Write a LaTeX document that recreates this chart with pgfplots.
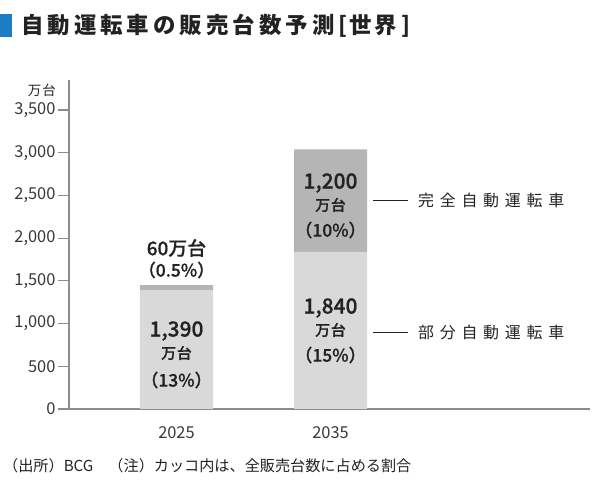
\documentclass[border=0pt]{standalone}
\usepackage{pgfplots}
\pgfplotsset{compat=1.18}
\usepackage{fontspec}
\setmainfont{Noto Sans CJK JP}
\newfontfamily\med{Noto Sans CJK JP Medium}[FakeBold=0.7]
\definecolor{titleblue}{HTML}{1B7DC6}
\definecolor{lightbar}{HTML}{D9D9D9}
\definecolor{darkbar}{HTML}{B5B5B5}
\definecolor{axisgray}{HTML}{8C8C8C}
\definecolor{txt}{HTML}{222222}
\begin{document}
\begin{tikzpicture}
\begin{scope}[x=1bp,y=1bp,shift={(-69bp,-73bp)}]
\path[use as bounding box] (0,0) rectangle (600,482);
\end{scope}
\begin{axis}[
  at={(0pt,0pt)}, anchor=south west,
  scale only axis, width=521bp, height=329bp,
  xmin=-0.698, xmax=2.685, ymin=0, ymax=3851,
  axis x line=bottom, axis y line=left,
  axis line style={draw=axisgray, line width=1.6bp, -},
  ytick={0,500,...,3500},
  xtick={0,1}, xticklabels={2025,2035},
  scaled y ticks=false,
  /pgf/number format/.cd, 1000 sep={,}, assume math mode=true, /pgfplots/.cd,
  tick align=outside,
  major tick length=11bp,
  ytick style={draw=axisgray, line width=1.2bp},
  xtick style={draw=none},
  yticklabel style={font=\fontsize{16.5}{19}\selectfont, text=txt!90, xshift=1bp},
  xticklabel style={font=\fontsize{16.5}{19}\selectfont, text=txt!90, yshift=-3bp},
  ybar stacked, bar width=73bp,
  clip=false,
]
\addplot[fill=lightbar, draw=none] coordinates {(0,1390) (1,1840)};
\addplot[fill=darkbar, draw=none] coordinates {(0,60) (1,1200)};
\end{axis}
\begin{scope}[x=1bp,y=1bp,shift={(-69bp,-73bp)}, every node/.style={inner sep=0, text=txt}]
% title
\fill[titleblue] (0,445) rectangle (12,468);
\begin{scope}[every node/.append style={anchor=base west, font=\fontsize{22.5}{26}\selectfont\bfseries}]
\node[font=\fontsize{22.5}{26}\selectfont\bfseries\addfontfeatures{LetterSpace=18}] at (21,448) {自動運転車の販売台数予測};
\node at (338,448) {[};
\node at (349,448) {世};
\node at (374,448) {界};
\node at (401,448) {]};
\end{scope}
% y unit
\node[anchor=east, font=\fontsize{13.5}{15}\selectfont\addfontfeatures{LetterSpace=8}] at (56,392) {万台};
% 2025 labels
\node[font=\fontsize{19}{22}\selectfont\med] at (176.5,234) {60万台};
\node[font=\fontsize{17.5}{20}\selectfont\med] at (176.5,212) {（0.5\%）};
\node[font=\fontsize{21}{24}\selectfont\med] at (176.5,151) {1,390};
\node[font=\fontsize{15}{18}\selectfont\med\addfontfeatures{LetterSpace=5}] at (176.5,129) {万台};
\node[font=\fontsize{17.5}{20}\selectfont\med] at (176.5,102) {（13\%）};
% 2035 labels
\node[font=\fontsize{21}{24}\selectfont\med] at (330.5,299) {1,200};
\node[font=\fontsize{15}{18}\selectfont\med\addfontfeatures{LetterSpace=5}] at (330.5,277) {万台};
\node[font=\fontsize{17.5}{20}\selectfont\med] at (330.5,252) {（10\%）};
\node[font=\fontsize{21}{24}\selectfont\med] at (330.5,174) {1,840};
\node[font=\fontsize{15}{18}\selectfont\med\addfontfeatures{LetterSpace=5}] at (330.5,152) {万台};
\node[font=\fontsize{17.5}{20}\selectfont\med] at (330.5,127) {（15\%）};
% legend labels
\draw[txt, line width=0.8bp] (373,282) -- (408,282);
\draw[txt, line width=0.8bp] (373,150) -- (408,150);
\node[anchor=west, font=\fontsize{16}{19}\selectfont\addfontfeatures{LetterSpace=36}] at (418,282) {完全自動運転車};
\node[anchor=west, font=\fontsize{16}{19}\selectfont\addfontfeatures{LetterSpace=36}] at (418,150) {部分自動運転車};
% footnote
\node[anchor=west, font=\fontsize{15.2}{18}\selectfont] at (3,16) {（出所）BCG　（注）カッコ内は、全販売台数に占める割合};
\end{scope}
\end{tikzpicture}
\end{document}
